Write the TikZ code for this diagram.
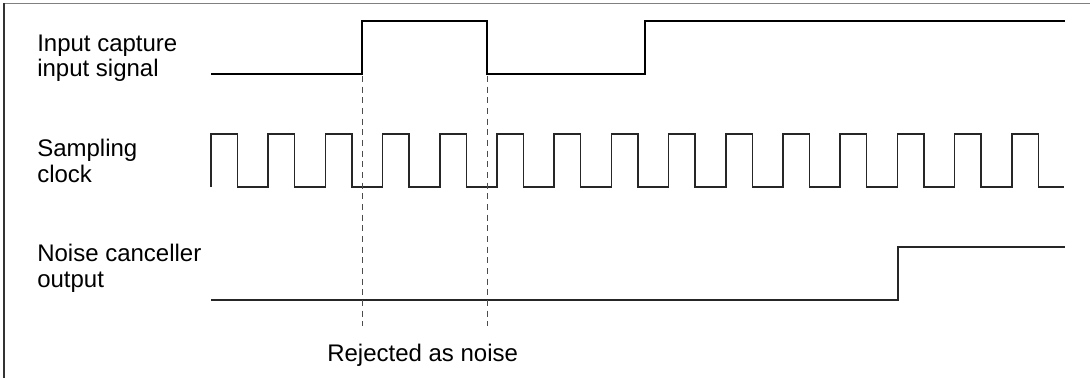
\documentclass[tikz,border=0pt]{standalone}
\usepackage{fontspec}
\setmainfont{Liberation Sans}
\begin{document}
\begin{tikzpicture}[x=0.75pt,y=-0.75pt,
  sig/.style={line width=1.1pt,black!85,line join=miter},
  guide/.style={line width=0.7pt,black!70,dash pattern=on 4.5pt off 3.5pt},
  lbl/.style={anchor=base west,inner sep=0pt,align=left,font=\fontsize{18}{18.9}\selectfont}]
\useasboundingbox (0,0) rectangle (1090,378);
% frame
\draw[line width=1.2pt,black!50] (4,3.5) -- (1090,3.5);
\draw[line width=1.2pt,black!80] (4,3.5) -- (4,378);
% labels (anchor at baseline of last line)
\node[lbl] (lin) at (37,77) {Input capture\\input signal};
\node[lbl] (lclk) at (37,182) {Sampling\\clock};
\node[lbl] (lout) at (37,287) {Noise canceller\\output};
\node[lbl] (lrej) at (327,361) {Rejected as noise};
% input capture signal
\draw[sig,black] (211,74) -- (362,74) -- (362,21) -- (487,21) -- (487,74) -- (645,74) -- (645,21) -- (1065,21);
% sampling clock
\draw[sig] (211,187) \foreach \k in {0,...,14}{ -- ({211+57.2*\k},187) -- ({211+57.2*\k},134) -- ({237.5+57.2*\k},134) -- ({237.5+57.2*\k},187)} -- (1064,187);
% noise canceller output
\draw[sig] (211,300) -- (898,300) -- (898,247) -- (1065,247);
% guides
\coordinate (g1t) at (362,76);
\coordinate (g1b) at (362,326);
\coordinate (g2t) at (487,76);
\coordinate (g2b) at (487,326);
\draw[guide] (g1t) -- (g1b);
\draw[guide] (g2t) -- (g2b);
\end{tikzpicture}
\end{document}
